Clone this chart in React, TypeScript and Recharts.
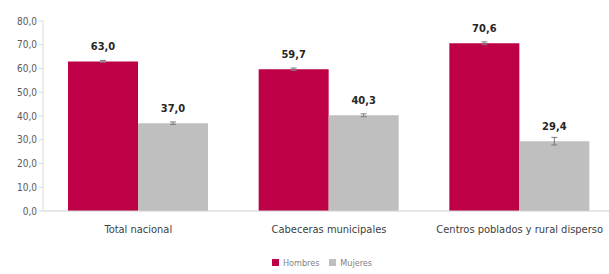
import { BarChart, Bar, XAxis, YAxis, Legend, ErrorBar, LabelList } from 'recharts'

const categories = ['Total nacional', 'Cabeceras municipales', 'Centros poblados y rural disperso']
const hombres = [63.0, 59.7, 70.6]
const mujeres = [37.0, 40.3, 29.4]
const hombresErr = [0.4, 0.5, 0.6]
const mujeresErr = [0.5, 0.6, 1.6]
const yTicks = [0, 10, 20, 30, 40, 50, 60, 70, 80]

const data = categories.map((name, i) => ({
  name,
  Hombres: hombres[i],
  Mujeres: mujeres[i],
  hErr: hombresErr[i],
  mErr: mujeresErr[i],
}))

const font = "'Liberation Sans Narrow', 'DejaVu Sans Condensed', 'Open Sans', sans-serif"
const fmt = (v: number) => v.toFixed(1).replace('.', ',')

export default function App() {
  // the plot runs a little past the right edge of the picture, like the original
  return (
    <div style={{ position: 'absolute', left: 0, top: 0, width: 609, height: 274, overflow: 'hidden', background: '#fff' }}>
      <BarChart
        width={616}
        height={274}
        data={data}
        margin={{ top: 21, right: 1, left: 7, bottom: 8 }}
        barGap={0}
        barCategoryGap={25}
      >
        <XAxis
          dataKey="name"
          height={41}
          axisLine={{ stroke: '#d0d0d0' }}
          tickLine={false}
          tick={{ fill: '#404040', fontSize: 11, fontFamily: font }}
          dy={6}
        />
        <YAxis
          width={36}
          domain={[0, 80]}
          ticks={yTicks}
          tickFormatter={fmt}
          axisLine={{ stroke: '#d9d9d9' }}
          tickLine={{ stroke: '#d9d9d9' }}
          tickSize={4}
          tick={{ fill: '#595959', fontSize: 10, fontFamily: font }}
        />
        <Legend
          verticalAlign="bottom"
          height={14}
          iconType="square"
          iconSize={7}
          wrapperStyle={{ paddingLeft: 16 }}
          formatter={(value) => <span style={{ color: '#7f7f7f', fontSize: 9, fontFamily: font }}>{value}</span>}
        />
        <Bar dataKey="Hombres" fill="#be0046" isAnimationActive={false}>
          <ErrorBar dataKey="hErr" width={3} stroke="#7a7a7a" strokeWidth={1} />
          <LabelList
            dataKey="Hombres"
            position="top"
            offset={11}
            formatter={(v: any) => fmt(Number(v))}
            style={{ fill: '#262626', fontSize: 11, fontWeight: 700, fontFamily: font }}
          />
        </Bar>
        <Bar dataKey="Mujeres" fill="#bfbfbf" isAnimationActive={false}>
          <ErrorBar dataKey="mErr" width={3} stroke="#7a7a7a" strokeWidth={1} />
          <LabelList
            dataKey="Mujeres"
            position="top"
            offset={11}
            formatter={(v: any) => fmt(Number(v))}
            style={{ fill: '#262626', fontSize: 11, fontWeight: 700, fontFamily: font }}
          />
        </Bar>
      </BarChart>
    </div>
  )
}
